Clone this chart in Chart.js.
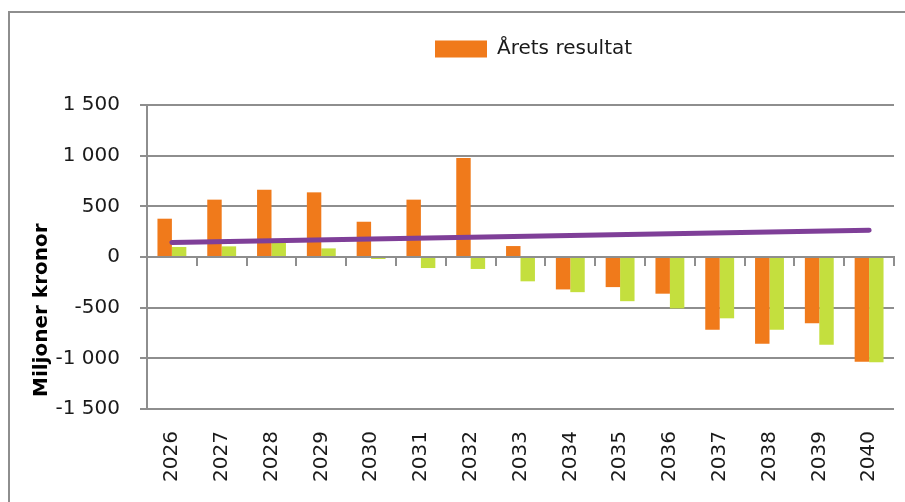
<!DOCTYPE html>
<html><head><meta charset="utf-8">
<script src="https://cdn.jsdelivr.net/npm/chart.js@4.4.1/dist/chart.umd.min.js"></script>
<style>
html,body{margin:0;padding:0;background:#fff;overflow:hidden;}
#frame{position:absolute;left:8px;top:11px;width:1000px;height:1000px;border-left:2px solid #8e8e8e;border-top:2px solid #8e8e8e;}
#wrap{position:absolute;left:0;top:0;width:905px;height:502px;}
</style></head><body>
<div id="frame"></div>
<div id="wrap"><canvas id="c" width="905" height="502"></canvas></div>
<script>
const years = ['2026','2027','2028','2029','2030','2031','2032','2033','2034','2035','2036','2037','2038','2039','2040'];
const aretsResultat = [378, 566, 664, 638, 348, 566, 977, 108, -320, -297, -362, -717, -856, -653, -1034];
const secondSeries = [99, 105, 138, 85, -20, -109, -118, -240, -347, -436, -507, -605, -717, -867, -1038];
const trendLine = [144, null, null, null, null, null, null, null, null, null, null, null, null, null, 265];
const yMin = -1500, yMax = 1500, yStep = 500;
const yAxisTitle = 'Miljoner kronor';

const GRID = '#8e8e8e';
Chart.defaults.font.family = 'DejaVu Sans';
Chart.defaults.font.size = 20;
Chart.defaults.color = '#1a1a1a';

function fmt(v){
  const s = Math.abs(v).toString().replace(/\B(?=(\d{3})+(?!\d))/g, ' ');
  return (v < 0 ? '-' : '') + s;
}

const legendShift = {
  id: 'legendShift',
  afterLayout(chart){
    const lg = chart.legend;
    if (lg) { const w = lg.right - lg.left; lg.left = 425; lg.right = 425 + w; }
  }
};

const yTitle = {
  id: 'yTitle',
  afterDraw(chart){
    const ctx = chart.ctx, area = chart.chartArea;
    ctx.save();
    ctx.translate(41.5, area.bottom - 12);
    ctx.rotate(-Math.PI / 2);
    ctx.font = 'bold 20px "DejaVu Sans"';
    ctx.fillStyle = '#000';
    ctx.textAlign = 'left';
    ctx.textBaseline = 'middle';
    ctx.fillText(yAxisTitle, 0, 0);
    ctx.restore();
  }
};

new Chart(document.getElementById('c'), {
  type: 'bar',
  data: {
    labels: years,
    datasets: [
      { label: 'Årets resultat', data: aretsResultat, backgroundColor: '#F07A1B', order: 1, xAxisID: 'x' },
      { label: '', data: secondSeries, backgroundColor: '#C4DF3E', order: 1, xAxisID: 'x' },
      { type: 'line', label: '', data: trendLine, spanGaps: true, borderColor: '#7F3F98', borderWidth: 5,
        borderCapStyle: 'round', pointRadius: 0, pointHoverRadius: 0, fill: false, order: 0, xAxisID: 'x' }
    ]
  },
  options: {
    responsive: false,
    devicePixelRatio: 1,
    animation: false,
    layout: { padding: { left: 20, right: 11, top: 29, bottom: 0 } },
    datasets: { bar: { barPercentage: 1, categoryPercentage: 0.58 } },
    plugins: {
      tooltip: { enabled: false },
      legend: {
        position: 'top', align: 'start', weight: 3000,
        labels: {
          boxWidth: 52, boxHeight: 17, padding: 10, color: '#1a1a1a',
          font: { size: 20 },
          filter: (item) => item.datasetIndex === 0
        }
      },
      title: { display: true, text: '', weight: 2000, font: { size: 10 }, padding: { top: 24, bottom: 0 } }
    },
    scales: {
      x: {
        type: 'category', position: 'bottom', offset: true,
        grid: { display: false },
        border: { display: false },
        ticks: { minRotation: 90, maxRotation: 90, padding: 14, autoSkip: false, color: '#1a1a1a', font: { size: 20 } },
        afterFit: (s) => { s.height = 93; s.paddingLeft = 0; s.paddingRight = 0; }
      },
      x2: {
        type: 'category', position: { y: 0 }, offset: true,
        grid: { offset: true, drawOnChartArea: false, drawTicks: true, tickLength: 8, color: GRID, lineWidth: 2 },
        border: { display: true, color: GRID, width: 2 },
        ticks: { display: false },
        afterFit: (s) => { s.paddingLeft = 0; s.paddingRight = 0; }
      },
      y: {
        min: yMin, max: yMax,
        ticks: { stepSize: yStep, padding: 20, color: '#1a1a1a', font: { size: 20 }, callback: (v) => fmt(v) },
        grid: { color: GRID, lineWidth: 2, tickLength: 7, drawTicks: true },
        border: { display: true, color: GRID, width: 2 },
        title: { display: false },
        afterFit: (s) => { s.width = 127; }
      }
    }
  },
  plugins: [legendShift, yTitle]
});
</script>
</body></html>
